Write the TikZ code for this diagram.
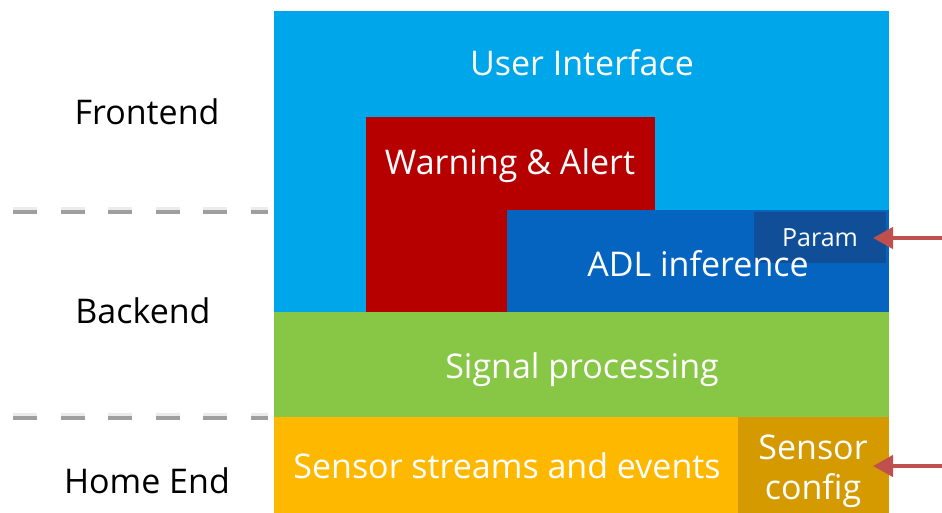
\documentclass[tikz,border=0pt]{standalone}
\usepackage{fontspec}
\setmainfont{Open Sans}
\usetikzlibrary{arrows.meta}
\definecolor{uiblue}{HTML}{00A6EA}
\definecolor{alertred}{HTML}{B60000}
\definecolor{adlblue}{HTML}{0564BF}
\definecolor{paramblue}{HTML}{104F98}
\definecolor{sigreen}{HTML}{88C646}
\definecolor{sensoryellow}{HTML}{FFB800}
\definecolor{configgold}{HTML}{D49A00}
\definecolor{arrowred}{HTML}{C0504D}
\tikzset{
  boxtext/.style={text=white, font=\fontsize{34}{40}\selectfont, align=center, inner sep=0pt},
  sidetext/.style={text=black, font=\fontsize{34}{40}\selectfont, inner sep=0pt},
  divider/.style={line width=4pt, draw=gray!75, dash pattern=on 24pt off 23.5pt},
  dividershade/.style={line width=4pt, draw=black, opacity=0.08, dash pattern=on 24pt off 23.5pt},
  feed/.style={line width=4.5pt, draw=arrowred, -{Triangle[length=20pt,width=21pt]}},
}
\begin{document}
\begin{tikzpicture}[x=1pt,y=-1pt]
\useasboundingbox[fill=white] (0,0) rectangle (942,513);
% stacked layers
\fill[uiblue] (274,11) rectangle (889,312);
\fill[alertred] (366,117) rectangle (655,312);
\fill[adlblue] (507,210) rectangle (889,312);
\fill[paramblue] (754,212) rectangle (886,263);
\fill[sigreen] (274,312) rectangle (889,417);
\fill[sensoryellow] (274,417) rectangle (738,513);
\fill[configgold] (738,417) rectangle (889,513);
% layer labels (anchored on the baseline)
\node[boxtext, anchor=base] (ui) at (582,76) {User Interface};
\node[boxtext, anchor=base] (alert) at (510,175) {Warning \& Alert};
\node[boxtext, anchor=base] (adl) at (698,276) {ADL inference};
\node[boxtext, anchor=base, font=\fontsize{25}{30}\selectfont] (param) at (820,247) {Param};
\node[boxtext, anchor=base] (sig) at (582,378) {Signal processing};
\node[boxtext, anchor=base] (streams) at (507,478) {Sensor streams and events};
\node[boxtext, anchor=base] (config1) at (813,459) {Sensor};
\node[boxtext, anchor=base] (config2) at (813,499) {config};
% tier labels
\node[sidetext, anchor=base] (front) at (147,125) {Frontend};
\node[sidetext, anchor=base] (back) at (143,323) {Backend};
\node[sidetext, anchor=base] (home) at (147,493) {Home End};
% tier dividers
\coordinate (d1a) at (13,212); \coordinate (d1b) at (268,212);
\coordinate (d2a) at (13,418); \coordinate (d2b) at (268,418);
\draw[dividershade] ([yshift=3pt]d1a) -- ([yshift=3pt]d1b);
\draw[dividershade] ([yshift=3pt]d2a) -- ([yshift=3pt]d2b);
\draw[divider] (d1a) -- (d1b);
\draw[divider] (d2a) -- (d2b);
% external inputs
\coordinate (inparam) at (942,238);
\coordinate (inconfig) at (942,466);
\draw[feed] (inparam) -- (873,238);
\draw[feed] (inconfig) -- (873,466);
\end{tikzpicture}
\end{document}
